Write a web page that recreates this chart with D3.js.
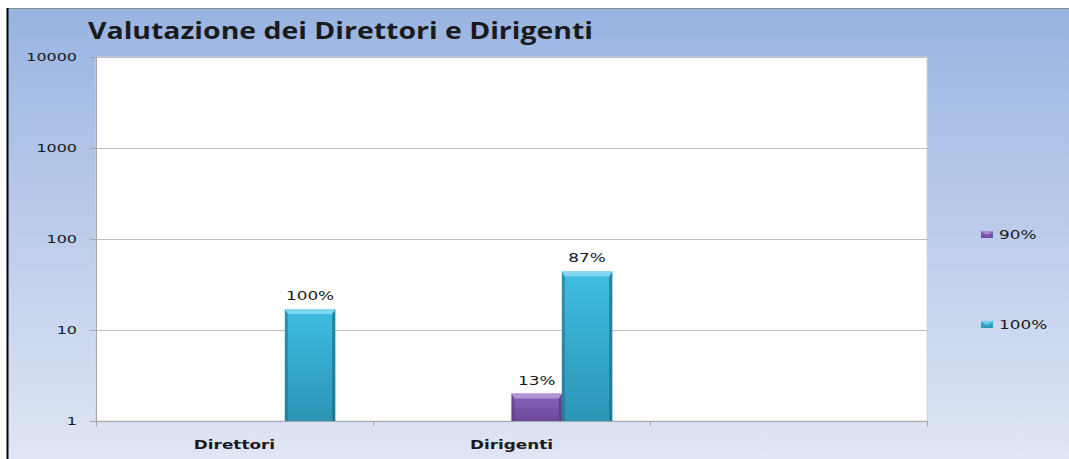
<!DOCTYPE html>
<html>
<head>
<meta charset="utf-8">
<script src="https://cdn.jsdelivr.net/npm/d3@7"></script>
<style>
  html, body { margin: 0; padding: 0; background: #ffffff; }
  svg { display: block; }
</style>
</head>
<body>
<svg id="chart" width="1069" height="459"></svg>
<script>
// Category and series data
const categories = ["Direttori", "Dirigenti", ""];
const seriesNames = ["90%", "100%"];
const values90 = [null, 2, null];
const values100 = [17, 44, null];
const labels90 = [null, "13%", null];
const labels100 = ["100%", "87%", null];
const yTickValues = [1, 10, 100, 1000, 10000];
const titleText = "Valutazione dei Direttori e Dirigenti";

const series = [
  { name: seriesNames[0], values: values90, labels: labels90,
    top: "#8a64bb", bottom: "#6b4899", bevel: "#b096d6", edge: "#553a7c" },
  { name: seriesNames[1], values: values100, labels: labels100,
    top: "#3fbde2", bottom: "#2b95b5", bevel: "#7fd6f0", edge: "#1f6f88" }
];

const W = 1069, H = 459;
const plot = { left: 96, right: 927, top: 57, bottom: 421 };

const svg = d3.select("#chart");
const defs = svg.append("defs");

// Chart area background gradient
const bg = defs.append("linearGradient").attr("id", "bgGrad")
  .attr("x1", 0).attr("y1", 0).attr("x2", 0).attr("y2", 1);
bg.append("stop").attr("offset", "0%").attr("stop-color", "#99b4e2");
bg.append("stop").attr("offset", "100%").attr("stop-color", "#dfe6f4");

series.forEach((s, i) => {
  const g = defs.append("linearGradient").attr("id", "barGrad" + i)
    .attr("x1", 0).attr("y1", 0).attr("x2", 0).attr("y2", 1);
  g.append("stop").attr("offset", "0%").attr("stop-color", s.top);
  g.append("stop").attr("offset", "100%").attr("stop-color", s.bottom);
});

svg.append("rect").attr("x", 0).attr("y", 0).attr("width", W).attr("height", H)
  .attr("fill", "#ffffff");
svg.append("rect").attr("x", 8).attr("y", 9).attr("width", W - 8).attr("height", H - 9)
  .attr("fill", "url(#bgGrad)");
svg.append("line").attr("x1", 7).attr("x2", W).attr("y1", 8.5).attr("y2", 8.5)
  .attr("stroke", "#8c8c8c").attr("stroke-width", 1);
svg.append("line").attr("x1", 7.5).attr("x2", 7.5).attr("y1", 8).attr("y2", H)
  .attr("stroke", "#000000").attr("stroke-width", 2);

// Title
svg.append("text")
  .attr("x", 88).attr("y", 39)
  .attr("font-family", "'Open Sans', 'DejaVu Sans', sans-serif")
  .attr("font-weight", "bold")
  .attr("font-size", 23)
  .attr("fill", "#1a1a1a")
  .attr("textLength", 505)
  .attr("lengthAdjust", "spacingAndGlyphs")
  .text(titleText);

// Plot area
svg.append("rect")
  .attr("x", plot.left).attr("y", plot.top)
  .attr("width", plot.right - plot.left).attr("height", plot.bottom - plot.top)
  .attr("fill", "#ffffff").attr("stroke", "#d4d4d4").attr("stroke-width", 1);

// Scales
const x = d3.scaleBand().domain(categories)
  .range([plot.left, plot.right]).paddingInner(0).paddingOuter(0);
// Each cluster holds four positions with a 150% gap; the two plotted series use the last two
const slots = ["slotA", "slotB", ...seriesNames];
const xSub = d3.scaleBand().domain(slots)
  .range([0, x.bandwidth()]).paddingInner(0).paddingOuter(0.75);
const y = d3.scaleLog().domain([1, 10000]).range([plot.bottom, plot.top]);

// Gridlines
svg.append("g").selectAll("line")
  .data(yTickValues.slice(1))
  .join("line")
  .attr("x1", plot.left).attr("x2", plot.right)
  .attr("y1", d => Math.round(y(d)) + 0.5).attr("y2", d => Math.round(y(d)) + 0.5)
  .attr("stroke", "#bdbdbd").attr("stroke-width", 1);

// Y axis
const tickScale = 1.45;
const yAxis = svg.append("g")
  .attr("transform", `translate(${plot.left},0)`)
  .call(d3.axisLeft(y).tickValues(yTickValues).tickSize(6).tickFormat(d3.format("d")));
yAxis.select(".domain").attr("stroke", "#a6a6a6");
yAxis.selectAll(".tick line").attr("stroke", "#a6a6a6");
yAxis.selectAll(".tick text")
  .attr("x", -19 / tickScale)
  .attr("dy", "0.36em")
  .attr("transform", `scale(${tickScale},1)`)
  .attr("font-family", "'DejaVu Sans', Verdana, sans-serif")
  .attr("font-size", 11)
  .attr("fill", "#1a1a1a");

// X axis
const xAxis = svg.append("g");
xAxis.append("line")
  .attr("x1", plot.left).attr("x2", plot.right)
  .attr("y1", plot.bottom + 0.5).attr("y2", plot.bottom + 0.5)
  .attr("stroke", "#a6a6a6");
const boundaries = categories.map(c => x(c)).concat([x(categories[categories.length - 1]) + x.bandwidth()]);
xAxis.selectAll("line.tick").data(boundaries).join("line")
  .attr("class", "tick")
  .attr("x1", d => Math.round(d) + 0.5).attr("x2", d => Math.round(d) + 0.5)
  .attr("y1", plot.bottom).attr("y2", plot.bottom + 5)
  .attr("stroke", "#a6a6a6");
const labelScale = 1.35;
xAxis.selectAll("g.cat").data(categories).join("g")
  .attr("class", "cat")
  .attr("transform", d => `translate(${x(d) + x.bandwidth() / 2},449) scale(${labelScale},1)`)
  .append("text")
  .attr("text-anchor", "middle")
  .attr("font-family", "'DejaVu Sans', Verdana, sans-serif")
  .attr("font-weight", "bold")
  .attr("font-size", 12.5)
  .attr("fill", "#1a1a1a")
  .text(d => d);

// Bars with bevelled edges
const bevel = 5;
series.forEach((s, si) => {
  const bw = xSub.bandwidth();
  const data = categories.map((c, i) => ({ c, v: s.values[i], label: s.labels[i] }))
    .filter(d => d.v != null);
  const g = svg.append("g");
  const bars = g.selectAll("g.bar").data(data).join("g").attr("class", "bar");
  bars.each(function(d) {
    const gg = d3.select(this);
    const x0 = x(d.c) + xSub(s.name);
    const x1 = x0 + bw;
    const yt = y(d.v);
    const yb = y(1);
    gg.append("rect")
      .attr("x", x0).attr("y", yt).attr("width", bw).attr("height", yb - yt)
      .attr("fill", `url(#barGrad${si})`);
    // side shading
    gg.append("polygon")
      .attr("points", [[x0, yt], [x0 + 3, yt + bevel], [x0 + 3, yb], [x0, yb]].join(" "))
      .attr("fill", s.edge).attr("opacity", 0.55);
    gg.append("polygon")
      .attr("points", [[x1, yt], [x1 - 3, yt + bevel], [x1 - 3, yb], [x1, yb]].join(" "))
      .attr("fill", s.edge).attr("opacity", 0.75);
    // top bevel
    gg.append("polygon")
      .attr("points", [[x0, yt], [x1, yt], [x1 - 3, yt + bevel], [x0 + 3, yt + bevel]].join(" "))
      .attr("fill", s.bevel);
    // value label
    gg.append("g")
      .attr("transform", `translate(${(x0 + x1) / 2},${yt - 9}) scale(${labelScale},1)`)
      .append("text")
      .attr("text-anchor", "middle")
      .attr("font-family", "'DejaVu Sans', Verdana, sans-serif")
      .attr("font-size", 12.5)
      .attr("fill", "#1a1a1a")
      .text(d.label);
  });
});

// Legend
const legendY = [234, 324];
const legend = svg.append("g");
series.forEach((s, i) => {
  const ly = legendY[i];
  legend.append("rect")
    .attr("x", 981).attr("y", ly - 3).attr("width", 12).attr("height", 7)
    .attr("fill", `url(#barGrad${i})`);
  legend.append("polygon")
    .attr("points", [[981, ly - 3], [993, ly - 3], [987, ly + 1]].join(" "))
    .attr("fill", s.bevel).attr("opacity", 0.8);
  legend.append("g")
    .attr("transform", `translate(999,${ly + 5}) scale(${labelScale},1)`)
    .append("text")
    .attr("font-family", "'DejaVu Sans', Verdana, sans-serif")
    .attr("font-size", 12.5)
    .attr("fill", "#1a1a1a")
    .text(s.name);
});
</script>
</body>
</html>
